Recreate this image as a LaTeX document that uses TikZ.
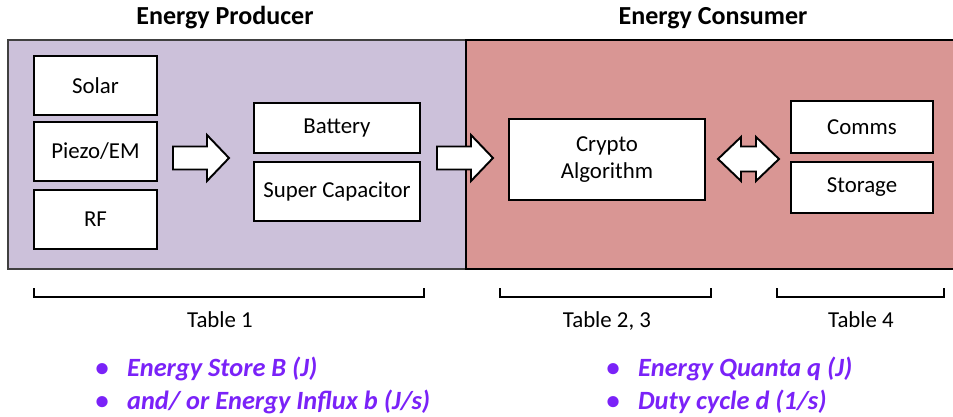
\documentclass[tikz,border=0pt]{standalone}
\usepackage{fontspec}
\setmainfont{Carlito}
\usetikzlibrary{calc}

\definecolor{producerfill}{HTML}{CCC1DA}
\definecolor{consumerfill}{HTML}{D99694}
\definecolor{notecolor}{HTML}{7A22F8}

\begin{document}
\begin{tikzpicture}[x=0.02cm,y=-0.02cm,
  panel/.style={inner sep=0pt,minimum height=4.58cm},
  box/.style={draw=black,line width=1.1pt,fill=white,inner sep=0pt,align=center,
    font=\fontsize{13}{15.3}\selectfont},
  title/.style={anchor=base,font=\bfseries\fontsize{14.8}{17}\selectfont},
  tablelabel/.style={anchor=base,font=\fontsize{13}{15}\selectfont},
  note/.style={anchor=base west,inner sep=0pt,text=notecolor,
    font=\bfseries\itshape\fontsize{15}{18}\selectfont},
  bracket/.style={line width=1.2pt},
  blockarrow/.style={draw=black,line width=1.1pt,fill=white,line join=miter},
  fatarrow/.pic={\path[blockarrow] (0,-11.5) -- (34,-11.5) -- (34,-23) -- (56,0)
    -- (34,23) -- (34,11.5) -- (0,11.5) -- cycle;},
  twinarrow/.pic={\path[blockarrow] (0,0) -- (23,-22) -- (23,-12.5) -- (38,-12.5)
    -- (38,-22) -- (61,0) -- (38,22) -- (38,12.5) -- (23,12.5) -- (23,22) -- cycle;}]
  \useasboundingbox (0,0) rectangle (953,416);
  \clip (0,0) rectangle (953,416);

  % Panels
  \node[panel,fill=producerfill,draw=black!75,line width=0.8pt,minimum width=9.18cm]
    (producer) at (237.5,154.5) {};
  \node[panel,fill=consumerfill,draw=black,line width=1.4pt,minimum width=9.88cm]
    (consumer) at (713,154.5) {};
  \node[title] (ptitle) at (225,24) {Energy Producer};
  \node[title] (ctitle) at (713,24) {Energy Consumer};

  % Sources
  \node[box,minimum width=2.46cm,minimum height=1.18cm] (solar) at (95.5,85.5) {Solar};
  \node[box,minimum width=2.46cm,minimum height=1.18cm] (piezo) at (95.5,151.5) {Piezo/EM};
  \node[box,minimum width=2.46cm,minimum height=1.18cm] (rf) at (95.5,219.5) {RF};

  % Storage
  \node[box,minimum width=3.32cm,minimum height=1.0cm] (battery) at (337,128) {Battery};
  \node[box,minimum width=3.32cm,minimum height=1.18cm] (supercap) at (337,191.5) {Super Capacitor};

  % Consumer side
  \node[box,minimum width=3.92cm,minimum height=1.62cm] (crypto) at (607,159.5) {Crypto\\Algorithm};
  \node[box,minimum width=2.84cm,minimum height=1.04cm] (comms) at (862,127) {Comms};
  \node[box,minimum width=2.84cm,minimum height=1.02cm] (storage) at (862,187.5) {Storage};

  % Block arrows
  \pic at (173,158) {fatarrow};
  \pic at (437,158) {fatarrow};
  \pic at (718,159) {twinarrow};

  % Brackets
  \draw[bracket] (34,288) |- (424,297) -- (424,288);
  \draw[bracket] (500,288) |- (711,297) -- (711,288);
  \draw[bracket] (777,288) |- (944,297) -- (944,288);
  \node[tablelabel] (table1) at (220,327) {Table 1};
  \node[tablelabel] (table23) at (607,327) {Table 2, 3};
  \node[tablelabel] (table4) at (861,327) {Table 4};

  % Parameters
  \node[note] (store) at (95,376) {\makebox[18.1pt][l]{\textbullet}Energy Store B (J)};
  \node[note] (influx) at (95,409) {\makebox[18.1pt][l]{\textbullet}and/ or Energy Influx b (J/s)};
  \node[note] (quanta) at (606,376) {\makebox[18.1pt][l]{\textbullet}Energy Quanta q (J)};
  \node[note] (duty) at (606,409) {\makebox[18.1pt][l]{\textbullet}Duty cycle d (1/s)};
\end{tikzpicture}
\end{document}
